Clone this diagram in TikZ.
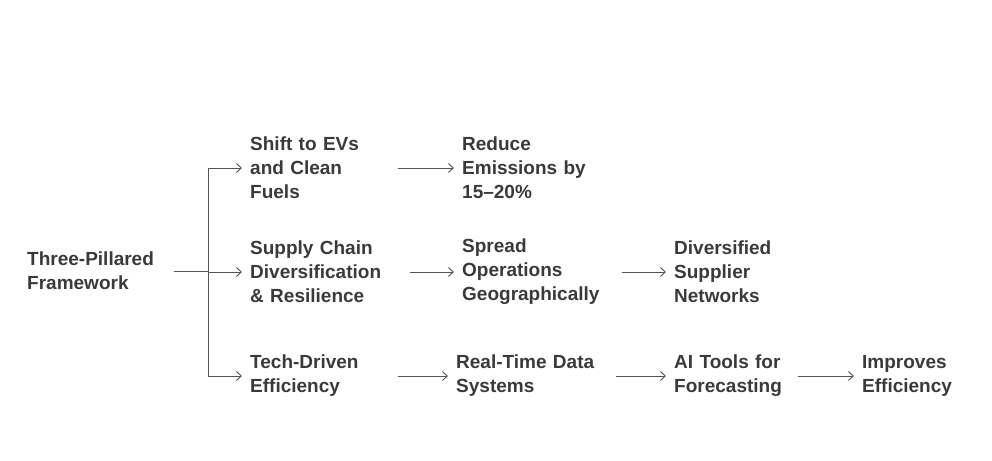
\documentclass[tikz,border=0pt]{standalone}
\usepackage{fontspec}
\setmainfont{Liberation Sans}
\usetikzlibrary{arrows.meta}
\definecolor{txt}{HTML}{3A3A3A}
\definecolor{ln}{HTML}{555555}
\tikzset{
  lbl/.style={anchor=west,inner sep=0pt,align=left,text=txt,font=\fontsize{19}{24}\selectfont\bfseries},
  arr/.style={draw=ln,line width=0.9pt,-{Straight Barb[length=5pt,width=9pt]}},
  ln/.style={draw=ln,line width=0.9pt}
}
\begin{document}
\begin{tikzpicture}[x=1pt,y=-1pt]
\useasboundingbox (0,0) rectangle (992,460);
\node[lbl,text width=147pt] (root) at (27,271) {Three-Pillared\\Framework};
\node[lbl,text width=148pt] (a1) at (250,168) {Shift to EVs\\and Clean\\Fuels};
\node[lbl,text width=160pt] (b1) at (462,168) {Reduce\\Emissions by\\15–20\%};
\node[lbl,text width=160pt] (a2) at (250,272) {Supply Chain\\Diversification\\\& Resilience};
\node[lbl,text width=160pt] (b2) at (462,272) {Spread\\Operations\\Geographically};
\node[lbl,text width=130pt] (c2) at (674,272) {Diversified\\Supplier\\Networks};
\node[lbl,text width=148pt] (a3) at (250,376) {Tech-Driven\\Efficiency};
\node[lbl,text width=160pt] (b3) at (456,376) {Real-Time Data\\Systems};
\node[lbl,text width=124pt] (c3) at (674,376) {AI Tools for\\Forecasting};
\node[lbl,text width=110pt] (d3) at (862,376) {Improves\\Efficiency};
\coordinate (j) at (208,271);
\draw[ln] (root.east) -- (j);
\draw[arr,shorten >=8pt] (j) |- (a1.west);
\draw[arr,shorten >=8pt] (j) |- (a3.west);
\draw[arr,shorten >=8pt] (j |- a2.west) -- (a2.west);
\draw[arr,shorten >=8pt] (a1.east) -- (b1.west);
\draw[arr,shorten >=8pt] (a2.east) -- (b2.west);
\draw[arr,shorten >=8pt] (b2.east) -- (c2.west);
\draw[arr,shorten >=8pt] (a3.east) -- (b3.west);
\draw[arr,shorten >=8pt] (b3.east) -- (c3.west);
\draw[arr,shorten >=8pt] (c3.east) -- (d3.west);
\end{tikzpicture}
\end{document}
